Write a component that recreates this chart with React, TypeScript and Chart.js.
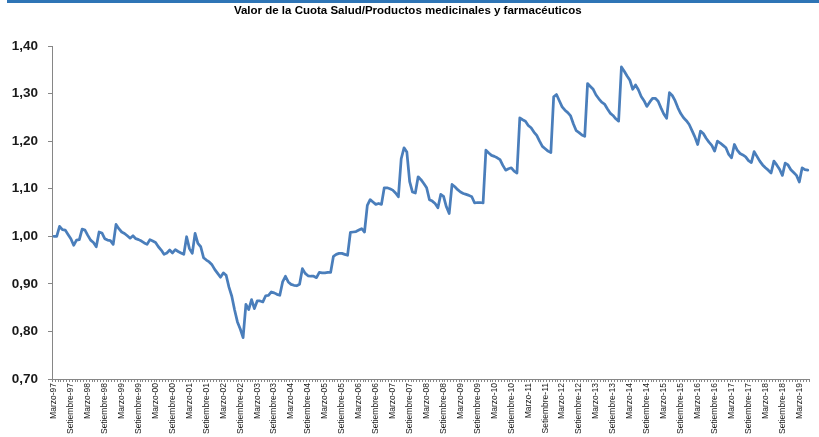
import React, { useEffect, useRef } from "react";
import { Chart, registerables } from "chart.js";

Chart.register(...registerables);

const TITLE = "Valor de la Cuota Salud/Productos medicinales y farmacéuticos";
const MONTHS = [
  "Enero", "Febrero", "Marzo", "Abril", "Mayo", "Junio",
  "Julio", "Agosto", "Setiembre", "Octubre", "Noviembre", "Diciembre",
];
const START_YEAR = 1997;
const START_MONTH = 2; // Marzo
const TICK_EVERY = 6;
const Y_MIN = 0.7;
const Y_MAX = 1.4;
const Y_STEP = 0.1;

// Monthly values, Marzo-97 .. Junio-19
const v1997 = [1.000, 1.000, 1.021, 1.014, 1.013, 1.004, 0.995, 0.981, 0.992, 0.993];
const v1998 = [1.015, 1.013, 1.002, 0.992, 0.987, 0.978, 1.009, 1.007, 0.995, 0.992, 0.991, 0.983];
const v1999 = [1.025, 1.016, 1.009, 1.006, 1.001, 0.996, 1.001, 0.995, 0.993, 0.990, 0.986, 0.983];
const v2000 = [0.993, 0.990, 0.987, 0.978, 0.971, 0.962, 0.965, 0.971, 0.965, 0.972, 0.968, 0.965];
const v2001 = [0.962, 0.999, 0.974, 0.964, 1.006, 0.985, 0.978, 0.955, 0.950, 0.946, 0.940, 0.930];
const v2002 = [0.922, 0.914, 0.923, 0.918, 0.893, 0.874, 0.845, 0.820, 0.805, 0.787, 0.857, 0.846];
const v2003 = [0.867, 0.848, 0.864, 0.864, 0.862, 0.875, 0.876, 0.883, 0.881, 0.878, 0.876, 0.904];
const v2004 = [0.916, 0.904, 0.899, 0.897, 0.896, 0.899, 0.932, 0.922, 0.917, 0.916, 0.916, 0.913];
const v2005 = [0.924, 0.923, 0.923, 0.924, 0.924, 0.958, 0.962, 0.964, 0.964, 0.962, 0.960, 1.008];
const v2006 = [1.009, 1.010, 1.013, 1.016, 1.009, 1.065, 1.077, 1.072, 1.067, 1.069, 1.067, 1.102];
const v2007 = [1.102, 1.100, 1.097, 1.091, 1.083, 1.163, 1.186, 1.177, 1.115, 1.093, 1.091, 1.125];
const v2008 = [1.119, 1.111, 1.102, 1.077, 1.074, 1.069, 1.060, 1.088, 1.084, 1.062, 1.048, 1.109];
const v2009 = [1.104, 1.098, 1.093, 1.090, 1.088, 1.086, 1.083, 1.070, 1.071, 1.071, 1.070, 1.181];
const v2010 = [1.175, 1.170, 1.168, 1.165, 1.161, 1.149, 1.139, 1.142, 1.144, 1.137, 1.133, 1.249];
const v2011 = [1.245, 1.242, 1.233, 1.228, 1.219, 1.212, 1.200, 1.189, 1.184, 1.179, 1.176, 1.293];
const v2012 = [1.298, 1.285, 1.272, 1.265, 1.260, 1.253, 1.236, 1.222, 1.218, 1.213, 1.210, 1.321];
const v2013 = [1.315, 1.309, 1.297, 1.289, 1.282, 1.278, 1.268, 1.259, 1.254, 1.247, 1.242, 1.356];
const v2014 = [1.347, 1.337, 1.328, 1.309, 1.318, 1.308, 1.294, 1.285, 1.273, 1.282, 1.290, 1.290];
const v2015 = [1.284, 1.270, 1.257, 1.248, 1.302, 1.296, 1.285, 1.270, 1.258, 1.249, 1.243, 1.235];
const v2016 = [1.222, 1.209, 1.193, 1.221, 1.216, 1.206, 1.198, 1.191, 1.179, 1.200, 1.196, 1.191];
const v2017 = [1.186, 1.172, 1.165, 1.193, 1.181, 1.174, 1.171, 1.167, 1.159, 1.155, 1.178, 1.168];
const v2018 = [1.158, 1.150, 1.144, 1.139, 1.133, 1.158, 1.150, 1.141, 1.128, 1.154, 1.150, 1.140];
const v2019 = [1.134, 1.128, 1.114, 1.144, 1.140, 1.139];

const VALUES = [
  ...v1997, ...v1998, ...v1999, ...v2000, ...v2001, ...v2002, ...v2003, ...v2004,
  ...v2005, ...v2006, ...v2007, ...v2008, ...v2009, ...v2010, ...v2011, ...v2012,
  ...v2013, ...v2014, ...v2015, ...v2016, ...v2017, ...v2018, ...v2019,
];

const CATEGORIES = VALUES.map((_, i) => {
  const k = START_MONTH + i;
  const m = k % 12;
  const y = START_YEAR + Math.floor(k / 12);
  return `${MONTHS[m]}-${String(y % 100).padStart(2, "0")}`;
});

const LINE_COLOR = "#4A7EBB";
const AXIS_COLOR = "#868686";
const TEXT_COLOR = "#1a1a1a";

export default function App() {
  const ref = useRef<HTMLCanvasElement>(null);

  useEffect(() => {
    document.body.style.margin = "0";
    const chart = new Chart(ref.current as HTMLCanvasElement, {
      type: "line",
      data: {
        labels: CATEGORIES,
        datasets: [
          {
            data: VALUES,
            borderColor: LINE_COLOR,
            borderWidth: 2.75,
            pointRadius: 0,
            tension: 0,
            fill: false,
            borderJoinStyle: "round",
            borderCapStyle: "round",
          },
        ],
      },
      options: {
        responsive: false,
        animation: false,
        layout: { padding: { left: 0, right: 3.5, top: 0, bottom: 0 } },
        plugins: {
          legend: { display: false },
          tooltip: { enabled: false },
          title: {
            display: true,
            text: TITLE,
            color: "#000",
            font: { family: "'Liberation Sans', Arial, sans-serif", size: 11.5, weight: "bold" },
            padding: { top: 4, bottom: 28.2 },
          },
        },
        scales: {
          x: {
            type: "category",
            offset: true,
            grid: {
              display: true,
              drawOnChartArea: false,
              drawTicks: true,
              tickLength: 3,
              color: AXIS_COLOR,
              offset: true,
            },
            border: { display: true, color: AXIS_COLOR, width: 1 },
            ticks: {
              autoSkip: false,
              maxRotation: 90,
              minRotation: 90,
              padding: 1,
              color: TEXT_COLOR,
              font: { family: "'Liberation Sans', Arial, sans-serif", size: 8.5 },
              callback: (_v: any, i: number) => (i % TICK_EVERY === 0 ? CATEGORIES[i] : ""),
            },
            afterFit: (s: any) => {
              s.height = 58;
            },
          },
          y: {
            min: Y_MIN,
            max: Y_MAX,
            grid: {
              display: true,
              drawOnChartArea: false,
              drawTicks: true,
              tickLength: 4.5,
              color: AXIS_COLOR,
            },
            border: { display: true, color: AXIS_COLOR, width: 1 },
            ticks: {
              stepSize: Y_STEP,
              padding: 10,
              color: TEXT_COLOR,
              font: { family: "'Liberation Sans', Arial, sans-serif", size: 13.5, weight: "bold" },
              callback: (v: any) => Number(v).toFixed(2).replace(".", ","),
            },
            afterFit: (s: any) => {
              s.width = 52.5;
            },
          },
        },
      },
    } as any);
    return () => chart.destroy();
  }, []);

  return (
    <div
      style={{
        position: "absolute",
        left: 0,
        top: 0,
        width: 819,
        height: 437,
        background: "#fff",
        overflow: "hidden",
      }}
    >
      <div style={{ position: "absolute", left: 7, top: 0, right: 0, height: 3, background: "#2E75B6" }} />
      <canvas ref={ref} width={819} height={437} style={{ position: "absolute", left: 0, top: 0 }} />
    </div>
  );
}
